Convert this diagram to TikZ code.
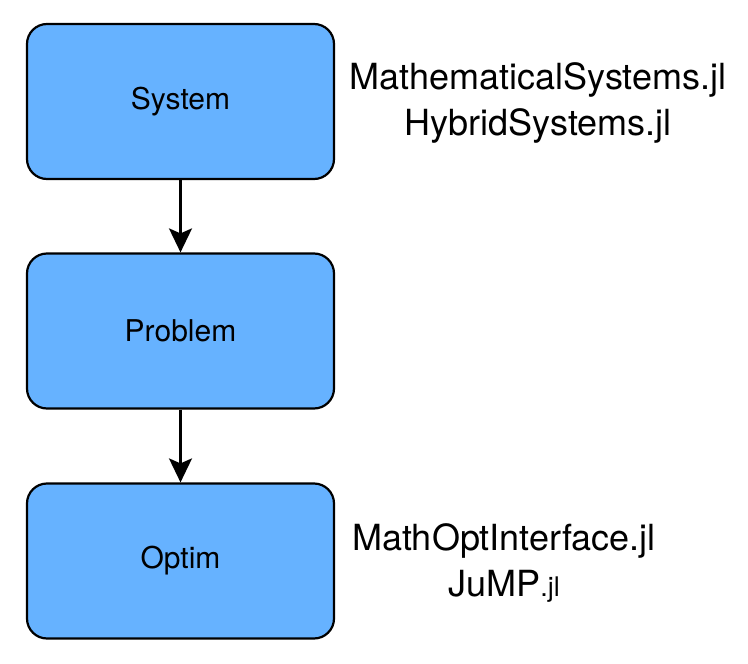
\documentclass[tikz,border=0pt]{standalone}
\usepackage{fontspec}
\setmainfont{TeX Gyre Heros}
\usetikzlibrary{arrows.meta}
\definecolor{boxblue}{HTML}{66B2FF}
\begin{document}
\begin{tikzpicture}[x=1pt,y=-1pt,
  blockbox/.style={draw=black, line width=2.2pt, fill=boxblue, rounded corners=20pt,
    minimum width=307pt, minimum height=155pt, inner sep=0pt,
    font=\fontsize{30}{36}\selectfont},
  lib/.style={align=center, inner sep=0pt, font=\fontsize{36}{46}\selectfont},
  link/.style={line width=2.2pt, -{Stealth[width=23pt,length=24pt,inset=5pt]}}]
\useasboundingbox (0,0) rectangle (748,664);
\node[blockbox] (sys) at (180.5,101.5) {System};
\node[blockbox] (prob) at (180.5,331) {Problem};
\node[blockbox] (opt) at (180.5,561) {Optim};
\draw[link] (sys) -- (prob);
\draw[link] (prob) -- (opt);
\node[lib] (l1) at (538,103) {MathematicalSystems.jl\\HybridSystems.jl};
\node[lib] (l2) at (504,563) {MathOptInterface.jl\\JuMP{\fontsize{27}{31}\selectfont.jl}};
\end{tikzpicture}
\end{document}
